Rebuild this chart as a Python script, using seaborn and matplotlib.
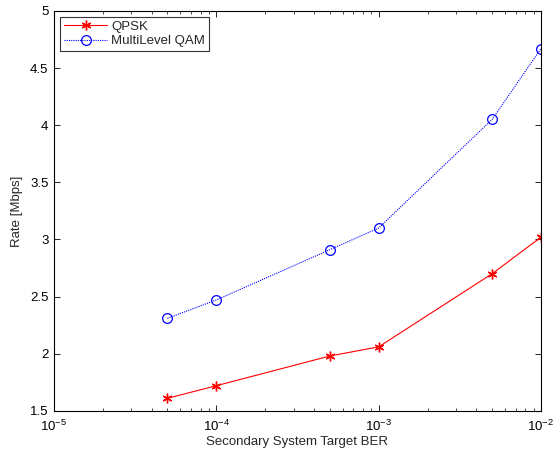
import matplotlib
matplotlib.use("Agg")
import matplotlib.pyplot as plt
import seaborn as sns
import pandas as pd
import numpy as np

# Target BER values and achieved rates per modulation scheme
target_ber = [5e-5, 1e-4, 5e-4, 1e-3, 5e-3, 1e-2]
rate_qpsk = [1.61, 1.72, 1.98, 2.06, 2.70, 3.02]
rate_mqam = [2.31, 2.47, 2.91, 3.10, 4.05, 4.67]
series_names = ["QPSK", "MultiLevel QAM"]

df = pd.DataFrame({
    "ber": target_ber * 2,
    "rate": rate_qpsk + rate_mqam,
    "scheme": [series_names[0]] * len(target_ber) + [series_names[1]] * len(target_ber),
})

sns.set_style("white")
plt.rcParams["font.family"] = ["Liberation Sans", "DejaVu Sans"]
plt.rcParams["font.size"] = 9.5
plt.rcParams["mathtext.fontset"] = "custom"
plt.rcParams["mathtext.rm"] = "Liberation Sans"
plt.rcParams["mathtext.it"] = "Liberation Sans:italic"
plt.rcParams["mathtext.default"] = "regular"

fig = plt.figure(figsize=(5.56, 4.53), dpi=100)
ax = fig.add_axes([0.097, 0.093, 0.876, 0.883])

asterisk = (6, 2, 0)
styles = {
    "QPSK": dict(color="#ff0000", linestyle="-", marker=asterisk, markersize=7,
                 markerfacecolor="#ff0000", markeredgecolor="#ff0000", markeredgewidth=1.0),
    "MultiLevel QAM": dict(color="#0000ff", linestyle=(0, (1, 1)), marker="o", markersize=7,
                           markerfacecolor="none", markeredgecolor="#0000ff", markeredgewidth=0.9),
}
for name in series_names:
    sub = df[df["scheme"] == name]
    st = styles[name]
    sns.lineplot(data=sub, x="ber", y="rate", ax=ax, label=name, color=st["color"],
                 linestyle=st["linestyle"], linewidth=0.8, marker=st["marker"],
                 markersize=st["markersize"], markerfacecolor=st["markerfacecolor"],
                 markeredgecolor=st["markeredgecolor"], markeredgewidth=st["markeredgewidth"])

ax.set_xscale("log")
ax.set_xlim(1e-5, 1e-2)
ax.set_ylim(1.5, 5)
ax.set_xticks([1e-5, 1e-4, 1e-3, 1e-2])
ax.set_xticklabels(["$10^{-5}$", "$10^{-4}$", "$10^{-3}$", "$10^{-2}$"])
ax.set_yticks(np.arange(1.5, 5.01, 0.5))
ax.set_yticklabels(["1.5", "2", "2.5", "3", "3.5", "4", "4.5", "5"])
ax.set_xlabel("Secondary System Target BER", fontsize=9.5, labelpad=1)
ax.set_ylabel("Rate [Mbps]", fontsize=9.5, labelpad=5)

for sp in ax.spines.values():
    sp.set_visible(True)
    sp.set_color("black")
    sp.set_linewidth(0.8)
ax.tick_params(axis="both", which="both", direction="in", top=True, right=True,
               bottom=True, left=True, colors="black", labelsize=9.5)
ax.tick_params(which="major", length=4, width=0.6, pad=4)
ax.tick_params(which="minor", length=2.5, width=0.5)
ax.tick_params(axis="x", which="major", pad=6)
ax.grid(False)

leg = ax.legend(loc="upper left", frameon=True, fancybox=False, fontsize=9.5,
                borderaxespad=0.45, handlelength=3.3, borderpad=0.3, labelspacing=0.15,
                handletextpad=0.3)
leg.get_frame().set_edgecolor("black")
leg.get_frame().set_linewidth(0.8)

fig.savefig("out.png", dpi=100, facecolor="white")
